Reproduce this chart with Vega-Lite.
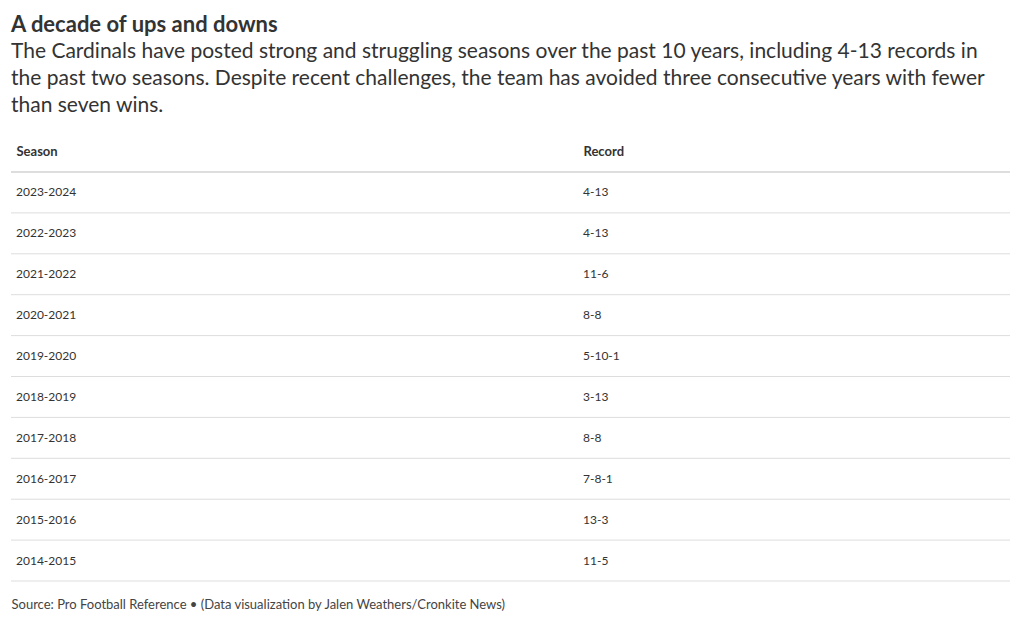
{
  "$schema": "https://vega.github.io/schema/vega-lite/v6.json",
  "width": 999,
  "height": 409,
  "autosize": {"type": "none"},
  "padding": {"left": 11, "right": 10, "top": 172, "bottom": 43},
  "background": "#ffffff",
  "config": {
    "font": "Lato",
    "view": {"stroke": null}
  },
  "title": {
    "text": "A decade of ups and downs",
    "subtitle": [
      "The Cardinals have posted strong and struggling seasons over the past 10 years, including 4-13 records in",
      "the past two seasons. Despite recent challenges, the team has avoided three consecutive years with fewer",
      "than seven wins."
    ],
    "anchor": "start",
    "frame": "group",
    "font": "Lato",
    "fontSize": 22,
    "fontWeight": "bold",
    "color": "#333333",
    "subtitleFont": "Lato",
    "subtitleFontSize": 21,
    "subtitleColor": "#333333",
    "subtitleLineHeight": 27,
    "subtitlePadding": 4,
    "offset": 28
  },
  "data": {
    "values": [
      {"Season": "2023-2024", "Record": "4-13"},
      {"Season": "2022-2023", "Record": "4-13"},
      {"Season": "2021-2022", "Record": "11-6"},
      {"Season": "2020-2021", "Record": "8-8"},
      {"Season": "2019-2020", "Record": "5-10-1"},
      {"Season": "2018-2019", "Record": "3-13"},
      {"Season": "2017-2018", "Record": "8-8"},
      {"Season": "2016-2017", "Record": "7-8-1"},
      {"Season": "2015-2016", "Record": "13-3"},
      {"Season": "2014-2015", "Record": "11-5"}
    ]
  },
  "layer": [
    {
      "mark": {"type": "rule", "color": "#dddddd", "strokeWidth": 1},
      "encoding": {
        "y": {"field": "Season", "type": "ordinal", "bandPosition": 1, "sort": null,
              "scale": {"type": "band", "paddingInner": 0, "paddingOuter": 0}, "axis": null}
      }
    },
    {
      "mark": {"type": "rule", "color": "#dddddd", "strokeWidth": 1},
      "encoding": {
        "y": {"datum": "2023-2024", "type": "ordinal", "bandPosition": 0}
      }
    },
    {
      "mark": {"type": "text", "align": "left", "baseline": "middle", "fontSize": 12, "dx": 5, "color": "#333333", "font": "Lato"},
      "encoding": {
        "x": {"datum": "Season", "type": "ordinal",
              "scale": {"type": "point", "domain": ["Season", "Record"], "range": [0, 567], "padding": 0},
              "axis": {"orient": "top", "title": null, "ticks": false, "domain": false, "labelAngle": 0,
                       "labelAlign": "left", "labelBaseline": "middle", "labelPadding": 21, "labelOffset": 5,
                       "labelFont": "Lato", "labelFontSize": 13, "labelFontWeight": "bold", "labelColor": "#333333"}},
        "y": {"field": "Season", "type": "ordinal", "sort": null},
        "text": {"field": "Season"}
      }
    },
    {
      "mark": {"type": "text", "align": "left", "baseline": "middle", "fontSize": 12, "dx": 5, "color": "#333333", "font": "Lato"},
      "encoding": {
        "x": {"datum": "Record", "type": "ordinal",
              "scale": {"type": "point", "domain": ["Season", "Record"], "range": [0, 567], "padding": 0},
              "axis": {"orient": "bottom", "labels": false, "ticks": false, "domain": false,
                       "title": "Source: Pro Football Reference • (Data visualization by Jalen Weathers/Cronkite News)",
                       "titleAnchor": "start", "titleAlign": "left", "titleFont": "Lato", "titleFontSize": 13,
                       "titleFontWeight": "normal", "titleColor": "#444444", "titlePadding": 17}},
        "y": {"field": "Season", "type": "ordinal", "sort": null},
        "text": {"field": "Record"}
      }
    }
  ],
  "resolve": {"axis": {"x": "independent"}}
}
